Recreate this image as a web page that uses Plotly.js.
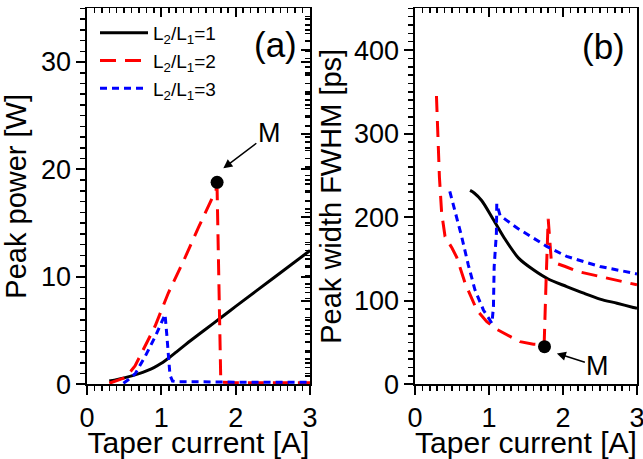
<!DOCTYPE html>
<html>
<head>
<meta charset="utf-8">
<script src="https://cdn.plot.ly/plotly-3.0.1.min.js"></script>
<style>html,body{margin:0;padding:0;background:#fff}#chart{width:643px;height:459px}</style>
</head>
<body>
<div id="chart"></div>
<script>
// ---- Panel (a): peak power [W] vs taper current [A]
const aBlackX = [0.3, 0.5, 0.7, 0.8, 0.9, 1.0, 1.1, 1.2, 1.3, 1.4, 1.6, 1.8, 2.0, 2.5, 3.0];
const aBlackY = [0.3, 0.6, 1.0, 1.25, 1.55, 1.95, 2.45, 3.0, 3.55, 4.1, 5.15, 6.2, 7.25, 9.85, 12.45];
const aRedX = [0.3, 0.52, 0.646, 0.915, 1.094, 1.3, 1.5, 1.75, 1.80, 2.0, 2.5, 3.0];
const aRedY = [0.1, 0.65, 1.7, 5.4, 8.5, 11.5, 14.6, 18.3, 0.2, 0.15, 0.15, 0.15];
const aBlueX = [0.49, 0.55, 0.65, 0.78, 0.915, 1.0, 1.05, 1.075, 1.094, 1.116, 1.15, 1.2, 2.0, 3.0];
const aBlueY = [0.1, 0.4, 1.0, 2.57, 4.4, 5.8, 6.5, 4.5, 2.57, 0.87, 0.3, 0.25, 0.2, 0.2];

// ---- Panel (b): peak width FWHM [ps] vs taper current [A]
const bBlackX = [0.744, 0.8, 0.9, 1.04, 1.2, 1.4, 1.6, 1.8, 2.05, 2.28, 2.5, 2.73, 2.95, 3.0];
const bBlackY = [232, 229, 220, 200, 176, 151, 137, 126, 117, 109, 102, 97, 92, 91];
const bRedX = [0.29, 0.31, 0.33, 0.36, 0.406, 0.5, 0.564, 0.677, 0.835, 0.97, 1.1, 1.29, 1.42, 1.6, 1.745, 1.77, 1.80, 1.84, 1.9, 2.03, 2.2, 2.5, 2.95, 3.0];
const bRedY = [345, 300, 248, 205, 177, 163, 152, 121, 89, 75, 66, 57, 51, 48, 47, 120, 198, 150, 145, 141, 135, 129, 120, 119];
const bBlueX = [0.47, 0.54, 0.63, 0.72, 0.81, 0.924, 1.0, 1.04, 1.06, 1.07, 1.10, 1.105, 1.15, 1.38, 1.6, 1.78, 2.05, 2.41, 2.5, 2.95, 3.0];
const bBlueY = [231, 208, 177, 143, 113, 89, 78, 73, 93, 141, 181, 216, 202, 187, 175, 165, 153, 143, 141, 133, 132];

// ---- Point M
const mX = [1.75];
const mA = [18.8];
const mB = [45];

const seriesNames = ['L<sub>2</sub>/L<sub>1</sub>=1', 'L<sub>2</sub>/L<sub>1</sub>=2', 'L<sub>2</sub>/L<sub>1</sub>=3'];
const xTicks = [0, 1, 2, 3];

const FONT = 'Liberation Sans, Arial, sans-serif';
const blackLine = {color: '#000000', width: 3, dash: 'solid', shape: 'spline', smoothing: 0.8};
const redLine = {color: '#ff0000', width: 3, dash: '16px,9px'};
const blueLine = {color: '#0000ff', width: 3, dash: '7px,5px'};

const traces = [
  {x: aBlackX, y: aBlackY, xaxis: 'x', yaxis: 'y', mode: 'lines', line: blackLine, name: seriesNames[0], legendgroup: 'g1'},
  {x: aRedX, y: aRedY, xaxis: 'x', yaxis: 'y', mode: 'lines', line: redLine, name: seriesNames[1], legendgroup: 'g2'},
  {x: aBlueX, y: aBlueY, xaxis: 'x', yaxis: 'y', mode: 'lines', line: blueLine, name: seriesNames[2], legendgroup: 'g3'},
  {x: mX, y: mA, xaxis: 'x', yaxis: 'y', mode: 'markers', marker: {color: '#000', size: 13}, showlegend: false},
  {x: bBlackX, y: bBlackY, xaxis: 'x2', yaxis: 'y2', mode: 'lines', line: blackLine, showlegend: false},
  {x: bRedX, y: bRedY, xaxis: 'x2', yaxis: 'y2', mode: 'lines', line: redLine, showlegend: false},
  {x: bBlueX, y: bBlueY, xaxis: 'x2', yaxis: 'y2', mode: 'lines', line: blueLine, showlegend: false},
  {x: mX, y: mB, xaxis: 'x2', yaxis: 'y2', mode: 'markers', marker: {color: '#000', size: 13}, showlegend: false},
  // invisible copies of point M on the overlaid top/right tick axes, so that those axes are drawn
  {x: mX, y: mA, xaxis: 'x3', yaxis: 'y3', mode: 'markers', marker: {opacity: 0, size: 1}, showlegend: false, hoverinfo: 'skip'},
  {x: mX, y: mB, xaxis: 'x4', yaxis: 'y4', mode: 'markers', marker: {opacity: 0, size: 1}, showlegend: false, hoverinfo: 'skip'}
];

const yDom = [1 - 384.3 / 459, 1 - 8.3 / 459];
const xDomA = [87 / 643, 310 / 643];
const xDomB = [415 / 643, 637 / 643];

function baseAxis(extra) {
  return Object.assign({
    showline: true, linecolor: '#000', linewidth: 1.6, mirror: true,
    showgrid: false, zeroline: false, ticks: 'outside', ticklen: 9, tickwidth: 2, tickcolor: '#000',
    tickfont: {family: FONT, size: 27, color: '#000'}, fixedrange: true, ticklabeloverflow: 'allow'
  }, extra);
}
function mirrorAxis(extra) {
  return Object.assign({
    showline: false, showgrid: false, zeroline: false, ticks: 'inside', ticklen: 9, tickwidth: 2,
    tickcolor: '#000', showticklabels: false, fixedrange: true
  }, extra);
}
const xTitleFont = {family: FONT, size: 30, color: '#000'};
const yTitleFont = {family: FONT, size: 29, color: '#000'};
const minorIn = (d) => ({ticks: 'inside', ticklen: 5, tickwidth: 1.5, tickcolor: '#000', dtick: d});
const minorOut = (d) => ({ticks: 'outside', ticklen: 5, tickwidth: 1.5, tickcolor: '#000', dtick: d});

const layout = {
  width: 643, height: 459,
  margin: {l: 0, r: 0, t: 0, b: 0},
  paper_bgcolor: '#fff', plot_bgcolor: 'rgba(0,0,0,0)',
  font: {family: FONT, color: '#000'},
  showlegend: true,
  legend: {x: 95 / 643, y: 1 - 14 / 459, xanchor: 'left', yanchor: 'top', bgcolor: 'rgba(0,0,0,0)',
           font: {family: FONT, size: 19, color: '#000'}, itemwidth: 48, tracegroupgap: 0},
  xaxis: baseAxis({domain: xDomA, anchor: 'y', range: [0, 3], tickvals: xTicks,
    minor: minorOut(0.1), title: {text: 'Taper current [A]', font: xTitleFont, standoff: 9}}),
  yaxis: baseAxis({domain: yDom, anchor: 'x', range: [0, 35], dtick: 10, tick0: 0,
    minor: minorOut(1), title: {text: 'Peak power [W]', font: yTitleFont, standoff: 10}}),
  xaxis2: baseAxis({domain: xDomB, anchor: 'y2', range: [0, 3], tickvals: xTicks,
    minor: minorOut(0.1), title: {text: 'Taper current [A]', font: xTitleFont, standoff: 9}}),
  yaxis2: baseAxis({domain: yDom, anchor: 'x2', range: [0, 450], dtick: 100, tick0: 0,
    minor: minorOut(10), title: {text: 'Peak width FWHM [ps]', font: yTitleFont, standoff: 4}}),
  xaxis3: mirrorAxis({overlaying: 'x', side: 'top', range: [0, 3], dtick: 1, tick0: 0, minor: minorIn(0.1)}),
  yaxis3: mirrorAxis({overlaying: 'y', side: 'right', range: [0, 35], dtick: 10, tick0: 0, minor: minorIn(1)}),
  xaxis4: mirrorAxis({overlaying: 'x2', side: 'top', range: [0, 3], dtick: 1, tick0: 0, minor: minorIn(0.1)}),
  yaxis4: mirrorAxis({overlaying: 'y2', side: 'right', range: [0, 450], dtick: 100, tick0: 0, minor: minorIn(10)}),
  annotations: [
    {xref: 'x', yref: 'y', x: 1.834, y: 20.1, ax: 46, ay: -35, text: 'M', showarrow: true,
     arrowhead: 2, arrowsize: 1.2, arrowwidth: 1.5, arrowcolor: '#000', font: {family: FONT, size: 27, color: '#000'}},
    {xref: 'x2', yref: 'y2', x: 1.917, y: 37, ax: 41, ay: 13, text: 'M', showarrow: true,
     arrowhead: 2, arrowsize: 1.2, arrowwidth: 1.5, arrowcolor: '#000', font: {family: FONT, size: 27, color: '#000'}},
    {xref: 'paper', yref: 'paper', x: 275 / 643, y: 1 - 45 / 459, text: '(a)', showarrow: false,
     xanchor: 'center', yanchor: 'middle', font: {family: FONT, size: 35, color: '#000'}},
    {xref: 'paper', yref: 'paper', x: 603 / 643, y: 1 - 46 / 459, text: '(b)', showarrow: false,
     xanchor: 'center', yanchor: 'middle', font: {family: FONT, size: 35, color: '#000'}}
  ]
};

Plotly.newPlot('chart', traces, layout, {displayModeBar: false, staticPlot: true});
</script>
</body>
</html>
